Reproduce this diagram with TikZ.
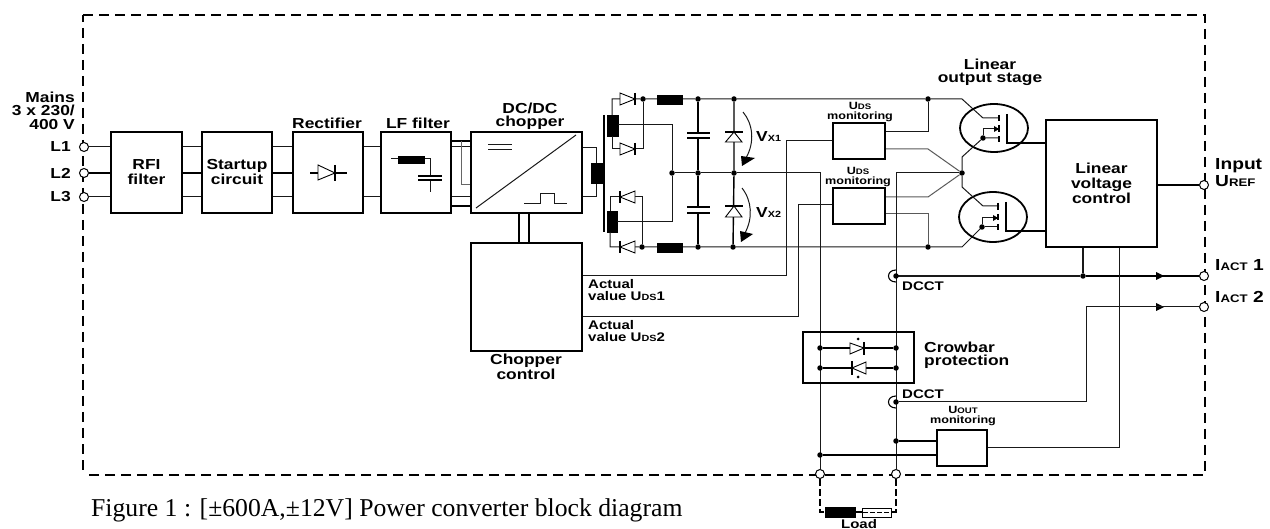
\documentclass[tikz,border=0pt]{standalone}
\usepackage{fontspec}
\usetikzlibrary{arrows.meta,calc}
\setmainfont{Liberation Serif}
\newfontfamily\labf[FakeStretch=1.2]{Liberation Sans Bold}
\newcommand{\sm}[1]{{\fontsize{9}{9}\selectfont #1}}
\newcommand{\smb}[1]{{\fontsize{11}{11}\selectfont #1}}
\newcommand{\smm}[1]{{\fontsize{8}{8}\selectfont #1}}
\tikzset{
 x=1pt,y=-1pt,
 wire/.style={line width=1pt,draw=black!90},
 thick wire/.style={line width=1.7pt,draw=black},
 frame/.style={line width=1.4pt,dash pattern=on 10pt off 6pt},
 boxn/.style={draw=black,line width=2.2pt,fill=white,inner sep=0pt,align=center,font=\labf\fontsize{14.5}{15}\selectfont,text=black},
 term/.style={circle,draw=black,fill=white,line width=1pt,minimum size=9pt,inner sep=0pt},
 jdot/.style={circle,fill=black,minimum size=5.5pt,inner sep=0pt},
 lbl/.style={inner sep=0pt,align=center,font=\labf\fontsize{14.5}{13}\selectfont,text=black},
 lbr/.style={inner sep=0pt,align=left,font=\labf\fontsize{16}{17}\selectfont,text=black},
 lbs/.style={inner sep=0pt,align=left,font=\labf\fontsize{12.5}{12}\selectfont,text=black},
 lbm/.style={inner sep=0pt,align=center,font=\labf\fontsize{10.5}{10}\selectfont,text=black},
 blk/.style={fill=black,draw=black,line width=0.3pt},
 diode/.style={draw=black,fill=white,line width=0.9pt},
}
\newcommand{\mkbox}[6]{\node[boxn,minimum width=#4-#2,minimum height=#5-#3] (#1) at ({(#2+#4)/2},{(#3+#5)/2}) {#6};}
\begin{document}
\begin{tikzpicture}
\useasboundingbox (0,0) rectangle (1270,529);
% frame
\draw[frame] (83,15) -- (1205,15) -- (1205,475) -- (83,475);
\draw[frame,dash phase=3pt] (83,15) -- (83,475);
% caption
\node[anchor=base west,inner sep=0pt,font=\fontsize{25.7}{26}\selectfont] (cap) at (91,516) {Figure 1 : [±600A,±12V] Power converter block diagram};
% boxes
\mkbox{rfi}{111}{132}{182}{213}{RFI\\filter}
\mkbox{start}{202}{132}{272}{213}{Startup\\circuit}
\mkbox{rect}{293}{132}{363}{213}{}
\mkbox{lf}{381}{132}{451}{213}{}
\mkbox{chop}{471}{132}{582}{213}{}
\mkbox{ctrl}{471}{243}{582}{351}{}
\mkbox{mon1}{833}{123}{885}{159}{}
\mkbox{mon2}{833}{188}{885}{224}{}
\mkbox{lvc}{1046}{120}{1157}{247}{Linear\\voltage\\control}
% terminals
\node[term] (L1) at (84,147) {};
\node[term] (L2) at (84,173) {};
\node[term] (L3) at (84,197) {};
\node[term] (tin) at (1204,185) {};
\node[term] (ta1) at (1204,276) {};
\node[term] (ta2) at (1204,307) {};
\node[term] (tn) at (820,474) {};
\node[term] (tp) at (896,474) {};
% input wires
\draw[wire] (L1) -- (rfi.west|-L1) (rfi.east|-L1) -- (start.west|-L1) (start.east|-L1) -- (rect.west|-L1) (rect.east|-L1) -- (lf.west|-L1);
\draw[thick wire] (L2) -- (rfi.west|-L2) (rfi.east|-L2) -- (start.west|-L2) (start.east|-L2) -- (rect.west|-L2);
\draw[wire] (L3) -- (rfi.west|-L3) (rfi.east|-L3) -- (start.west|-L3) (start.east|-L3) -- (rect.west|-L3) (rect.east|-L3) -- (lf.west|-L3);
\draw[thick wire] (lf.east|-0,141) -- (chop.west|-0,141) (lf.east|-0,206) -- (chop.west|-0,206);
\draw[wire] (lf.east|-L1) -- (chop.west|-L1) (lf.east|-L3) -- (chop.west|-L3);
\draw[wire,draw=black!60] (461,141) -- (461,185) -- (chop.west|-0,185);
% chopper - control link
\draw[thick wire,line width=1.3pt] (519,213) -- (519,243) (529,213) -- (529,243);
% rectifier symbol
\draw[thick wire,line width=1.2pt] (310,173) -- (318,173) (335,173) -- (347,173) (335,165) -- (335,181);
\draw[diode,fill=none] (318,165) -- (335,173) -- (318,180) -- cycle;
% LF filter symbol
\draw[wire] (391,159) -- (430.5,159) -- (430.5,176) (430.5,180) -- (430.5,192);
\fill[blk] (398,156) rectangle (424,163);
\draw[thick wire,line width=1.4pt] (418,176) -- (442,176) (418,180) -- (442,180);
% chopper symbol
\draw[wire,line width=1pt] (476,208) -- (576,135);
\draw[wire] (488,145) -- (512,145) (488,150) -- (512,150);
\draw[wire] (524,204) -- (540,204) -- (540,194) -- (554,194) -- (554,204) -- (567,204);
% chopper out + inductor
\draw[wire] (chop.east|-0,148) -- (596,148) -- (596,197) -- (chop.east|-L3);
\fill[blk] (591,163) rectangle (602,183);
% transformer
\draw[line width=2pt] (604,115) -- (604,232);
\fill[blk] (607,115) rectangle (618,136);
\fill[blk] (607,211) rectangle (617,232);
% junctions on rails
\foreach \n/\x/\y in {a1/643/99,a2/698/99,a3/734/99,a4/928/99,b1/672/173,b2/698/173,b3/734/173,b4/962/173,c1/642/247,c2/698/247,c3/733/247,c4/928/247}
  {\node[jdot] (\n) at (\x,\y) {};}
% rails
\draw[wire] (612,115) -- (612,99) -- (a1) -- (a2) -- (a3) -- (a4) -- (962,99) -- (983,118) -- (999,118);
\draw[wire] (612,136) -- (612,149) -- (643,149) -- (a1);
\draw[wire] (618,125) -- (672,125) -- (b1) -- (672,222) -- (617,222);
\draw[wire] (b1) -- (b2) -- (b3);
\draw[wire] (610,211) -- (610,197) -- (642,197) -- (c1);
\draw[wire] (610,232) -- (610,247) -- (c1) -- (c2) -- (c3) -- (c4) -- (962,247) -- (982,227);
\fill[blk] (657,95) rectangle (682,104);
\fill[blk] (657,243) rectangle (682,252);
% rectifier diodes
\draw[diode] (620,93) -- (635,99) -- (620,105) -- cycle; \draw[thick wire,line width=1.1pt] (635,93) -- (635,105);
\draw[diode] (620,143) -- (635,149) -- (620,155) -- cycle; \draw[thick wire,line width=1.1pt] (635,143) -- (635,155);
\draw[diode] (635,191) -- (620,197) -- (635,203) -- cycle; \draw[thick wire,line width=1.1pt] (620,191) -- (620,203);
\draw[diode] (635,241) -- (620,247) -- (635,253) -- cycle; \draw[thick wire,line width=1.1pt] (620,241) -- (620,253);
% capacitors
\draw[thick wire,line width=1.4pt] (a2) -- (698,133) (698,138) -- (b2) -- (698,207) (698,213) -- (c2);
\draw[thick wire,line width=1.5pt] (687,133) -- (710,133) (687,138) -- (710,138) (687,207) -- (710,207) (687,213) -- (710,213);
% flyback diodes
\draw[thick wire,line width=1.4pt] (a3) -- (b3) -- (c3);
\draw[diode,fill=white] (734,132) -- (725.5,142) -- (742,142) -- cycle;
\draw[diode,fill=white] (734,206) -- (725.5,217) -- (742,217) -- cycle;
\draw[thick wire,line width=1.2pt] (725,132) -- (743,132) (725,206) -- (743,206);
% Vx arrows
\draw[wire,line width=1pt] (743,112) .. controls (753,124) and (755,142) .. (746,158);
\fill (741,156) -- (755,158) -- (742,166) -- cycle;
\draw[wire,line width=1pt] (742,188) .. controls (752,201) and (753,218) .. (745,233);
\fill (740,231) -- (753,234) -- (741,242) -- cycle;
\node[lbl,anchor=west] (vx1) at (756,137) {V\sm{X1}};
\node[lbl,anchor=west] (vx2) at (756,213) {V\sm{X2}};
% monitoring wires
\draw[wire] (mon1.east|-0,132) -- (928,132) -- (a4);
\draw[wire,draw=black!65] (mon1.east|-0,149) -- (928,149) -- (b4);
\draw[wire,draw=black!65] (mon2.east|-0,197) -- (928,197) -- (b4);
\draw[wire,draw=black!65] (mon2.east|-0,214) -- (928,214) -- (c4);
\draw[wire] (mon1.west|-0,141) -- (786,141) -- (786,276) -- (ctrl.east|-0,276);
\draw[wire] (mon2.west|-0,205) -- (798,205) -- (798,317) -- (ctrl.east|-0,317);
% output verticals
\draw[wire] (b3) -- (820,173) -- (tn);
\draw[wire] (b4) -- (896,173) -- (tp);
% MOSFET
\draw[line width=1.8pt] (994,128) ellipse [x radius=34,y radius=24];
\draw[line width=1.8pt] (993,217) ellipse [x radius=34,y radius=25];
\node[jdot] (s1) at (983,138) {};
\node[jdot] (s2) at (982,227) {};
\draw[wire] (b4) -- (962,157) -- (s1) -- (999,138);
\draw[wire] (b4) -- (962,187) -- (983,206) -- (999,206);
\draw[wire] (s1) -- (983,129) -- (995,129);
\draw[wire] (s2) -- (982,218) -- (994,218);
\draw[wire] (s2) -- (998,227);
\fill (994,126) -- (999,129) -- (994,132) -- cycle;
\fill (993,215) -- (998,218) -- (993,221) -- cycle;
\draw[line width=1.3pt] (999,115) -- (999,121) (999,125) -- (999,132) (999,136) -- (999,142);
\draw[line width=1.3pt] (998,203) -- (998,210) (998,214) -- (998,220) (998,224) -- (998,230);
\draw[thick wire] (1007,114) -- (1007,143) -- (lvc.west|-0,143);
\draw[thick wire] (1006,202) -- (1006,231) -- (lvc.west|-0,231);
% outputs
\draw[thick wire] (lvc.east|-tin) -- (tin);
\node[jdot] (i1) at (1083,276) {};
\draw[wire,line width=1.2pt] (896,276) -- (i1);
\draw[thick wire] (i1) -- (ta1);
\draw[wire,line width=1.3pt] (lvc.south-|i1) -- (i1);
\fill (1156,272) -- (1164,276) -- (1156,280) -- cycle;
\fill (1156,303) -- (1164,307) -- (1156,311) -- cycle;
\node[jdot] (dc1) at (896,276) {};
\node[jdot] (dc2) at (896,402) {};
\draw[line width=1.1pt] (896,270) .. controls (886,270) and (886,282) .. (896,282);
\draw[line width=1.1pt] (896,396) .. controls (886,396) and (886,408) .. (896,408);
\draw[wire] (dc2) -- (1086,402) -- (1086,307) -- (ta2);
% crowbar
\node[draw=black,line width=2.2pt,minimum width=111pt,minimum height=51pt,inner sep=0pt] (crow) at (858.5,357.5) {};
\foreach \n/\x/\y in {e1/820/348,e2/896/348,e3/820/368,e4/896/368}
  {\node[jdot] (\n) at (\x,\y) {};}
\draw[thick wire] (e1) -- (e2) (e3) -- (e4);
\draw[diode] (850,343) -- (864,348) -- (850,354) -- cycle; \draw[thick wire,line width=1.1pt] (864,342) -- (864,355);
\draw[diode] (866,362) -- (852,368) -- (866,374) -- cycle; \draw[thick wire,line width=1.1pt] (852,361) -- (852,375);
\node[jdot,minimum size=3pt] (p1) at (858,339) {};
\node[jdot,minimum size=3pt] (p2) at (858,377) {};
% UOUT
\mkbox{uout}{937}{430}{987}{466}{}
\node[jdot] (f1) at (896,441) {};
\node[jdot] (f2) at (820,455) {};
\draw[thick wire] (f1) -- (uout.west|-f1) (f2) -- (uout.west|-f2);
\draw[wire] (uout.east|-0,447) -- (1119,447) -- (lvc.south-|1119,0);
% load
\draw[line width=1.1pt,dash pattern=on 7pt off 3pt] (tn) -- (820,512) -- (825,512);
\draw[line width=1.1pt,dash pattern=on 7pt off 3pt] (tp) -- (896,512) -- (891,512);
\draw[thick wire,line width=1.3pt] (855,512) -- (862,512);
\fill[blk] (825,507) rectangle (855,517);
\draw[line width=1pt,fill=white] (862,508) rectangle (891,517);
\draw[line width=1.3pt,dash pattern=on 5pt off 2pt] (863,512.5) -- (890,512.5);
% labels
\node[lbl,align=right,anchor=east,font=\labf\fontsize{14.5}{13.5}\selectfont] (mains) at (75,110.5) {Mains\\3 x 230/\\400 V};
\node[lbl,anchor=east] (n1) at (71,147) {L1};
\node[lbl,anchor=east] (n2) at (71,173) {L2};
\node[lbl,anchor=east] (n3) at (71,197) {L3};
\node[lbl] (t1) at (327,123) {Rectifier};
\node[lbl] (t2) at (418,123) {LF filter};
\node[lbl] (t3) at (530,116) {DC/DC\\chopper};
\node[lbl] (t4) at (526,367) {Chopper\\control};
\node[lbs,anchor=west] (t5) at (588,290) {Actual\\value U\sm{DS}1};
\node[lbs,anchor=west] (t6) at (588,331) {Actual\\value U\sm{DS}2};
\node[lbm] (t7) at (860,112) {U\smm{DS}\\monitoring};
\node[lbm] (t8) at (858,177) {U\smm{DS}\\monitoring};
\node[lbl] (t9) at (990,72) {Linear\\output stage};
\node[lbr,anchor=west] (t10) at (1215,172.5) {Input\\U\smb{REF}};
\node[lbr,anchor=west] (t11) at (1215,265) {I\smb{ACT} 1};
\node[lbr,anchor=west] (t12) at (1215,297) {I\smb{ACT} 2};
\node[lbs,anchor=west] (t13) at (902,286) {DCCT};
\node[lbs,anchor=west] (t14) at (902,394) {DCCT};
\node[lbl,align=left,anchor=west] (t15) at (924,355) {Crowbar\\protection};
\node[lbm] (t16) at (963,416) {U\smm{OUT}\\monitoring};
\node[lbl,anchor=base,font=\labf\fontsize{12.5}{13}\selectfont] (t17) at (859,528) {Load};
\end{tikzpicture}
\end{document}
